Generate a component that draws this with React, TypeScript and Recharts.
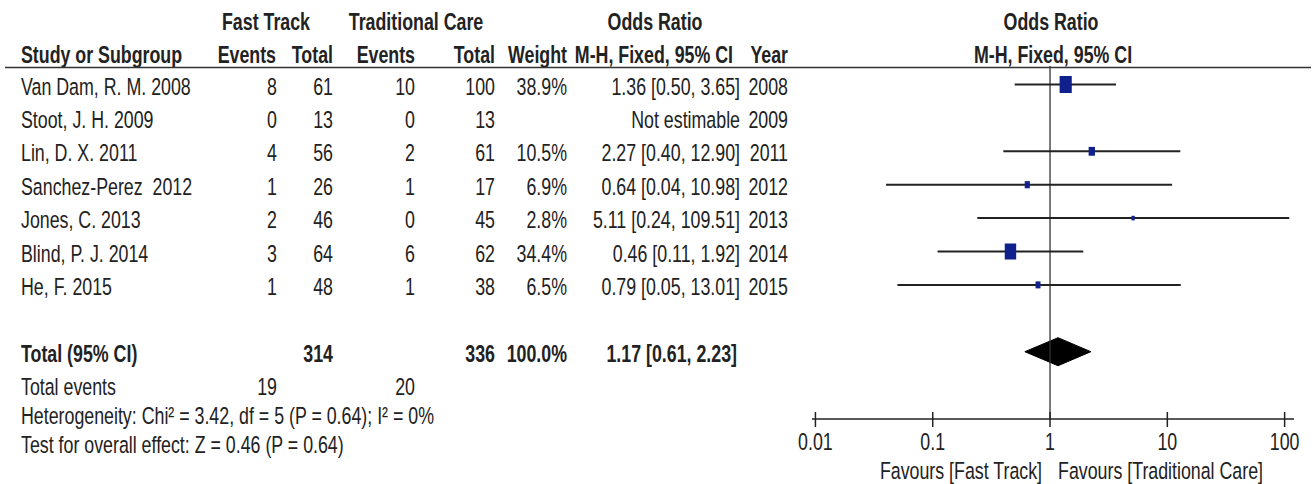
import { Area, ComposedChart, ReferenceLine, Scatter, XAxis, YAxis } from "recharts";

const studies = [
  "Van Dam, R. M. 2008",
  "Stoot, J. H. 2009",
  "Lin, D. X. 2011",
  "Sanchez-Perez  2012",
  "Jones, C. 2013",
  "Blind, P. J. 2014",
  "He, F. 2015",
];
const ftEvents = [8, 0, 4, 1, 2, 3, 1];
const ftTotal = [61, 13, 56, 26, 46, 64, 48];
const tcEvents = [10, 0, 2, 1, 0, 6, 1];
const tcTotal = [100, 13, 61, 17, 45, 62, 38];
const weights: (number | null)[] = [38.9, null, 10.5, 6.9, 2.8, 34.4, 6.5];
const orEst: (number | null)[] = [1.36, null, 2.27, 0.64, 5.11, 0.46, 0.79];
const orLow: (number | null)[] = [0.5, null, 0.4, 0.04, 0.24, 0.11, 0.05];
const orHigh: (number | null)[] = [3.65, null, 12.9, 10.98, 109.51, 1.92, 13.01];
const years = [2008, 2009, 2011, 2012, 2013, 2014, 2015];

const totalN = [314, 336];
const totalEvents = [19, 20];
const pooled = [1.17, 0.61, 2.23]; // est, low, high
const heterogeneity = "Heterogeneity: Chi² = 3.42, df = 5 (P = 0.64); I² = 0%";
const overallTest = "Test for overall effect: Z = 0.46 (P = 0.64)";
const xTicks = [0.01, 0.1, 1, 10, 100];

const TOTAL_ROW = 8;
const EVENTS_ROW = 9;

const ink = "#222";
const navy = "#10208c";
const font = "'Liberation Sans Narrow', 'Arial Narrow', 'Liberation Sans', Arial, sans-serif";
const FS = 17.8;
const SY = 1.38;

// column anchors (right edges unless noted)
const col = {
  name: 21,
  ftEvents: 277,
  ftTotal: 333,
  tcEvents: 415,
  tcTotal: 495,
  weight: 567,
  or: 740,
  year: 788,
};

const fmt = (v: number) => v.toFixed(2);

function T({
  x,
  y,
  anchor = "end",
  bold = false,
  children,
}: {
  x: number;
  y: number;
  anchor?: "start" | "middle" | "end";
  bold?: boolean;
  children: React.ReactNode;
}) {
  return (
    <text
      transform={`translate(${x},${y}) scale(1,${SY})`}
      textAnchor={anchor}
      dominantBaseline="central"
      fontFamily={font}
      fontSize={FS}
      fontWeight={bold ? 700 : 400}
      fill={ink}
      style={{ whiteSpace: "pre" }}
    >
      {children}
    </text>
  );
}

function RowTick(props: any) {
  const { y, payload } = props;
  const i = payload.value as number;
  const ty = y + 2;
  if (i === TOTAL_ROW) {
    return (
      <g>
        <T x={col.name} y={ty} anchor="start" bold>Total (95% CI)</T>
        <T x={col.ftTotal} y={ty} bold>{totalN[0]}</T>
        <T x={col.tcTotal} y={ty} bold>{totalN[1]}</T>
        <T x={col.weight} y={ty} bold>100.0%</T>
        <T x={col.or - 3} y={ty} bold>{`${fmt(pooled[0])} [${fmt(pooled[1])}, ${fmt(pooled[2])}]`}</T>
      </g>
    );
  }
  if (i === EVENTS_ROW) {
    return (
      <g>
        <T x={col.name} y={ty} anchor="start">Total events</T>
        <T x={col.ftEvents} y={ty}>{totalEvents[0]}</T>
        <T x={col.tcEvents} y={ty}>{totalEvents[1]}</T>
      </g>
    );
  }
  const est = orEst[i];
  const w = weights[i];
  return (
    <g>
      <T x={col.name} y={ty} anchor="start">{studies[i]}</T>
      <T x={col.ftEvents} y={ty}>{ftEvents[i]}</T>
      <T x={col.ftTotal} y={ty}>{ftTotal[i]}</T>
      <T x={col.tcEvents} y={ty}>{tcEvents[i]}</T>
      <T x={col.tcTotal} y={ty}>{tcTotal[i]}</T>
      {w != null && <T x={col.weight} y={ty}>{`${w.toFixed(1)}%`}</T>}
      <T x={col.or} y={ty}>
        {est == null ? "Not estimable" : `${fmt(est)} [${fmt(orLow[i]!)}, ${fmt(orHigh[i]!)}]`}
      </T>
      <T x={col.year} y={ty}>{years[i]}</T>
    </g>
  );
}

function AxisTick(props: any) {
  const { x, y, payload } = props;
  const v = payload.value as number;
  return (
    <g>
      <line x1={x} x2={x} y1={y - 7} y2={y + 8} stroke={ink} strokeWidth={1.5} />
      <T x={x} y={y + 23} anchor="middle">{String(v)}</T>
      {v === 1 && (
        <>
          <T x={x - 8} y={y + 52} anchor="end">Favours [Fast Track]</T>
          <T x={x + 8} y={y + 52} anchor="start">Favours [Traditional Care]</T>
        </>
      )}
    </g>
  );
}

function SquareMark(props: any) {
  const { cx, cy } = props;
  const wt = props.payload?.w ?? props.w;
  const w = 1.95 * Math.sqrt(wt);
  const h = w * 1.4;
  return <rect x={cx - w / 2} y={cy - h / 2} width={w} height={h} fill={navy} />;
}

export default function App() {
  const rows = studies.map((_, i) => i);
  const squares = rows
    .filter((i) => orEst[i] != null)
    .map((i) => ({ x: orEst[i] as number, y: i, w: weights[i] as number }));
  const dh = 0.42;
  const diamond = [
    { x: pooled[1], d: [TOTAL_ROW, TOTAL_ROW] },
    { x: pooled[0], d: [TOTAL_ROW - dh, TOTAL_ROW + dh] },
    { x: pooled[2], d: [TOTAL_ROW, TOTAL_ROW] },
  ];

  return (
    <div style={{ position: "absolute", left: 0, top: 0, width: 1315, height: 484, background: "#fff" }}>
      <ComposedChart width={1315} height={484} margin={{ top: 66, right: 21, bottom: 0, left: 752 }}>
        <XAxis
          dataKey="x"
          type="number"
          scale="log"
          domain={[0.00935, 120.2]}
          allowDataOverflow
          ticks={xTicks}
          interval={0}
          tick={<AxisTick />}
          tickSize={0}
          tickMargin={0}
          tickLine={false}
          axisLine={{ stroke: ink, strokeWidth: 1.5 }}
          height={65}
        />
        <YAxis
          dataKey="y"
          type="number"
          reversed
          domain={[-0.554, 10.015]}
          allowDataOverflow
          ticks={[...rows, TOTAL_ROW, EVENTS_ROW]}
          interval={0}
          tick={<RowTick />}
          tickLine={false}
          axisLine={false}
          width={60}
        />
        <ReferenceLine x={1} stroke="#333" strokeWidth={1.3} />
        {squares.map((s) => (
          <ReferenceLine
            key={s.y}
            segment={[
              { x: orLow[s.y] as number, y: s.y },
              { x: orHigh[s.y] as number, y: s.y },
            ]}
            stroke={ink}
            strokeWidth={2}
            ifOverflow="visible"
          />
        ))}
        <Scatter data={squares} shape={<SquareMark />} isAnimationActive={false} />
        <Area
          data={diamond}
          dataKey="d"
          type="linear"
          stroke="#000"
          strokeWidth={1}
          fill="#000"
          fillOpacity={1}
          isAnimationActive={false}
          dot={false}
          activeDot={false}
        />
      </ComposedChart>
      <svg width={1315} height={484} style={{ position: "absolute", left: 0, top: 0, pointerEvents: "none" }}>
        <T x={266} y={22} anchor="middle" bold>Fast Track</T>
        <T x={416} y={22} anchor="middle" bold>Traditional Care</T>
        <T x={655} y={22} anchor="middle" bold>Odds Ratio</T>
        <T x={1051} y={22} anchor="middle" bold>Odds Ratio</T>
        <T x={col.name} y={55} anchor="start" bold>Study or Subgroup</T>
        <T x={276} y={55} bold>Events</T>
        <T x={333} y={55} bold>Total</T>
        <T x={415} y={55} bold>Events</T>
        <T x={495} y={55} bold>Total</T>
        <T x={567} y={55} bold>Weight</T>
        <T x={733} y={55} bold>M-H, Fixed, 95% CI</T>
        <T x={788} y={55} bold>Year</T>
        <T x={1053} y={55} anchor="middle" bold>M-H, Fixed, 95% CI</T>
        <line x1={5} x2={1311} y1={67.5} y2={67.5} stroke="#333" strokeWidth={1.5} />
        <T x={col.name} y={416} anchor="start">{heterogeneity}</T>
        <T x={col.name} y={445} anchor="start">{overallTest}</T>
      </svg>
    </div>
  );
}
